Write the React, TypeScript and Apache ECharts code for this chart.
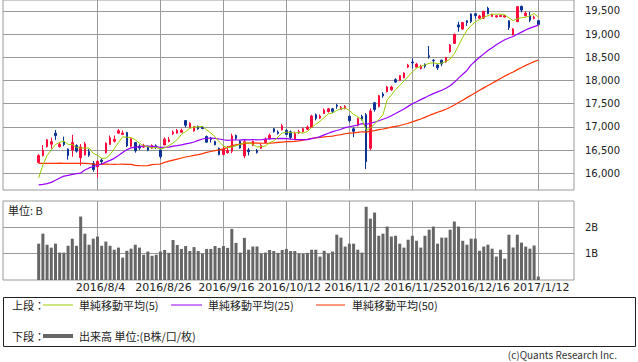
import React, { useEffect, useRef } from 'react';
import * as echarts from 'echarts';

const dates = [
  '2016/7/14','2016/7/15','2016/7/19','2016/7/20','2016/7/21','2016/7/22','2016/7/25','2016/7/26','2016/7/27','2016/7/28',
  '2016/7/29','2016/8/1','2016/8/2','2016/8/3','2016/8/4','2016/8/5','2016/8/8','2016/8/9','2016/8/10','2016/8/12',
  '2016/8/15','2016/8/16','2016/8/17','2016/8/18','2016/8/19','2016/8/22','2016/8/23','2016/8/24','2016/8/25','2016/8/26',
  '2016/8/29','2016/8/30','2016/8/31','2016/9/1','2016/9/2','2016/9/5','2016/9/6','2016/9/7','2016/9/8','2016/9/9',
  '2016/9/12','2016/9/13','2016/9/14','2016/9/15','2016/9/16','2016/9/20','2016/9/21','2016/9/23','2016/9/26','2016/9/27',
  '2016/9/28','2016/9/29','2016/9/30','2016/10/3','2016/10/4','2016/10/5','2016/10/6','2016/10/7','2016/10/11','2016/10/12',
  '2016/10/13','2016/10/14','2016/10/17','2016/10/18','2016/10/19','2016/10/20','2016/10/21','2016/10/24','2016/10/25','2016/10/26',
  '2016/10/27','2016/10/28','2016/10/31','2016/11/1','2016/11/2','2016/11/4','2016/11/7','2016/11/8','2016/11/9','2016/11/10',
  '2016/11/11','2016/11/14','2016/11/15','2016/11/16','2016/11/17','2016/11/18','2016/11/21','2016/11/22','2016/11/24','2016/11/25',
  '2016/11/28','2016/11/29','2016/11/30','2016/12/1','2016/12/2','2016/12/5','2016/12/6','2016/12/7','2016/12/8','2016/12/9',
  '2016/12/12','2016/12/13','2016/12/14','2016/12/15','2016/12/16','2016/12/19','2016/12/20','2016/12/21','2016/12/22','2016/12/26',
  '2016/12/27','2016/12/28','2016/12/29','2016/12/30','2017/1/4','2017/1/5','2017/1/6','2017/1/10','2017/1/11','2017/1/12',
];

const opens = [
  16235,16380,16575,16627,16866,16575,16684,16525,16503,16597,
  16336,16395,16467,16214,16141,16286,16445,16625,16690,16866,
  16840,16880,16585,16663,16585,16565,16568,16545,16595,16503,
  16612,16685,16851,16866,16887,17136,16992,16912,17006,16996,
  16793,16757,16684,16539,16405,16445,16475,16815,16699,16375,
  16503,16605,16485,16539,16665,16745,16960,16887,16938,16925,
  16895,16720,16870,16900,16950,16990,17264,17190,17290,17330,
  17390,17470,17380,17400,17230,16960,17035,17225,17261,16540,
  17520,17440,17710,17760,17800,18020,18005,18060,18290,18400,
  18290,18260,18350,18535,18440,18336,18440,18405,18620,18800,
  19200,19110,19290,19435,19440,19345,19345,19560,19380,19370,
  19380,19370,19290,18983,19270,19600,19400,19400,19340,19291,
];

const closes = [
  16385,16497,16723,16681,16811,16627,16620,16383,16664,16476,
  16569,16635,16391,16083,16254,16254,16650,16764,16735,16919,
  16869,16596,16745,16486,16545,16598,16497,16597,16556,16360,
  16737,16725,16887,16926,16925,17037,17081,17012,16958,16965,
  16672,16729,16614,16405,16519,16492,16807,16754,16544,16683,
  16465,16693,16449,16598,16735,16819,16899,16860,17024,16840,
  16774,16856,16900,16963,16998,17235,17184,17234,17365,17391,
  17336,17446,17425,17442,17134,16905,17177,17171,16251,17344,
  17374,17672,17668,17862,17862,17967,18106,18162,18333,18381,
  18356,18307,18308,18513,18426,18274,18360,18496,18765,18996,
  19155,19250,19253,19273,19401,19391,19494,19444,19427,19396,
  19403,19401,19145,19114,19594,19520,19454,19301,19364,19210,
];

const highs = [
  16410,16610,16740,16770,16935,16665,16790,16535,16830,16625,
  16633,16677,16525,16264,16285,16325,16665,16815,16815,16955,
  16925,16895,16755,16675,16625,16635,16595,16625,16625,16535,
  16775,16785,16925,16955,16965,17150,17100,17020,17030,17020,
  16815,16785,16705,16555,16575,16590,16855,16835,16715,16715,
  16545,16705,16525,16648,16775,16855,16975,16925,17065,16955,
  16923,16900,16940,16990,17030,17260,17290,17270,17400,17410,
  17410,17500,17450,17470,17250,16990,17200,17260,17300,17400,
  17540,17690,17750,17885,17890,18050,18120,18180,18360,18480,
  18380,18340,18370,18746,18460,18350,18450,18510,18785,19010,
  19270,19265,19300,19450,19450,19415,19500,19592,19440,19410,
  19420,19420,19300,19130,19600,19615,19490,19480,19400,19300,
];

const lows = [
  16215,16365,16555,16530,16720,16555,16585,16293,16358,16445,
  16163,16385,16355,16032,15909,16195,16425,16615,16665,16855,
  16825,16565,16565,16445,16505,16545,16475,16525,16525,16315,
  16605,16665,16825,16855,16875,16990,16970,16900,16940,16950,
  16660,16665,16605,16385,16395,16425,16435,16715,16530,16325,
  16385,16585,16425,16525,16655,16725,16875,16835,16925,16825,
  16735,16716,16850,16880,16930,16980,17140,17170,17280,17310,
  17300,17390,17370,17380,17100,16780,17010,17140,16090,16500,
  17330,17420,17630,17745,17780,17950,17990,18050,18270,18265,
  18280,18240,18265,18470,18300,18230,18310,18385,18600,18790,
  19054,19090,19180,19240,19340,19330,19330,19430,19370,19360,
  19370,19360,19090,18975,19260,19470,19380,19260,19320,19200,
];

// 出来高 (B株)
const volumes = [
  1.38,1.76,1.34,1.23,1.38,1.04,1.04,1.30,1.57,1.30,
  2.41,1.76,1.34,1.57,1.65,1.30,1.46,1.30,1.15,1.23,
  0.85,1.11,1.19,1.34,1.23,0.96,1.08,0.92,0.96,1.08,
  1.14,1.03,1.52,1.33,1.18,1.29,1.10,1.25,1.10,1.00,
  1.18,1.18,1.29,1.22,1.29,1.22,1.94,1.41,1.04,1.60,
  1.15,1.27,1.27,1.00,1.04,1.14,1.10,1.03,1.14,1.18,
  1.10,1.10,1.00,1.00,1.03,1.15,1.15,0.89,1.11,1.00,
  1.08,1.72,1.61,1.27,1.38,1.38,1.15,1.04,2.78,2.33,
  2.56,1.68,1.76,2.03,1.65,1.68,1.38,1.23,1.53,1.68,
  1.49,1.23,1.68,1.91,2.03,1.38,1.61,1.61,1.91,2.22,
  2.03,1.49,1.34,1.57,1.57,1.11,1.27,1.34,1.19,0.89,
  1.15,0.81,1.72,1.23,1.72,1.42,1.27,1.19,1.31,0.13,
];

// first four 5-day averages (they include days before the window)
const ma5Head = [15900, 16180, 16385, 16505];

const ma25 = [
  15750,15762,15778,15805,15850,15898,15939,15956,15976,15992,
  16005,16073,16116,16146,16174,16201,16240,16279,16322,16383,
  16447,16507,16548,16564,16577,16585,16585,16580,16575,16557,
  16562,16566,16586,16596,16614,16633,16651,16676,16711,16739,
  16756,16759,16753,16740,16724,16709,16718,16718,16720,16725,
  16720,16728,16722,16724,16739,16742,16749,16748,16752,16748,
  16738,16729,16725,16725,16726,16748,16766,16791,16829,16864,
  16898,16923,16950,16986,17004,17021,17041,17070,17056,17080,
  17102,17133,17165,17199,17240,17288,17338,17388,17443,17498,
  17543,17588,17631,17677,17718,17755,17792,17835,17888,17962,
  18052,18135,18218,18339,18421,18502,18575,18646,18708,18770,
  18827,18879,18918,18949,18998,19044,19090,19130,19164,19195,
];

const ma50 = [
  16214,16216,16217,16215,16216,16218,16216,16214,16215,16217,
  16216,16214,16210,16198,16195,16194,16196,16195,16193,16195,
  16196,16194,16192,16170,16165,16163,16166,16188,16195,16200,
  16235,16262,16285,16305,16330,16352,16368,16385,16402,16425,
  16450,16470,16490,16505,16528,16560,16596,16612,16628,16639,
  16652,16656,16651,16649,16648,16652,16657,16667,16674,16681,
  16685,16690,16700,16717,16732,16752,16763,16772,16785,16794,
  16803,16820,16834,16853,16865,16871,16884,16896,16889,16909,
  16922,16941,16956,16975,16994,17012,17030,17053,17080,17108,
  17140,17172,17205,17245,17282,17316,17347,17382,17426,17471,
  17525,17576,17632,17685,17738,17790,17842,17894,17942,17993,
  18045,18096,18141,18184,18236,18281,18327,18368,18408,18444,
];

const tickDates = ['2016/8/4','2016/8/26','2016/9/16','2016/10/12','2016/11/2','2016/11/25','2016/12/16','2017/1/12'];
const priceTicks = [16000, 16500, 17000, 17500, 18000, 18500, 19000, 19500];
const volumeTicks = [1, 2];

const UP = '#ff0a3c';
const DOWN = '#0a3296';
const C5 = '#99cc00';
const C25 = '#9900ff';
const C50 = '#ff3300';
const VOL = '#666666';
const GRID = '#9a9a9a';
const JP = '"Noto Sans CJK JP", sans-serif';
const NUM = '"DejaVu Sans", sans-serif';

function fmtComma(v: number) {
  return String(v).replace(/\B(?=(\d{3})+(?!\d))/g, ',');
}

export default function App() {
  const ref = useRef<HTMLDivElement>(null);

  useEffect(() => {
    document.body.style.margin = '0';
    const el = ref.current;
    if (!el) return;
    const chart = echarts.init(el, null, { renderer: 'svg' });

    const ma5 = closes.map((c, i) => {
      if (i < 4) return ma5Head[i];
      let s = 0;
      for (let k = i - 4; k <= i; k++) s += closes[k];
      return s / 5;
    });
    const tickPos = tickDates.map((d) => dates.indexOf(d));
    const candleData = dates.map((_, i) => [i, opens[i], closes[i], lows[i], highs[i]]);
    const volData = volumes.map((v, i) => [i, v]);
    const line = (arr: number[]) => arr.map((v, i) => [i, v]);

    const xMin = -8.5;
    const xMax = 127.5;

    const legendText = (text: string, x: number, y: number) => ({
      type: 'text', x, y,
      style: { text, font: '11px ' + JP, fill: '#222', verticalAlign: 'middle', align: 'left' },
    });
    const legendLine = (x1: number, x2: number, y: number, color: string, w: number) => ({
      type: 'line', shape: { x1, y1: y, x2, y2: y }, style: { stroke: color, lineWidth: w },
    });

    chart.setOption({
      animation: false,
      backgroundColor: '#ffffff',
      textStyle: { fontFamily: NUM },
      grid: [
        { left: 3, top: 0, width: 571, height: 190, show: true, borderColor: GRID, borderWidth: 1, backgroundColor: 'transparent', containLabel: false, outerBoundsMode: 'none' },
        { left: 3, top: 201, width: 571, height: 79, show: true, borderColor: GRID, borderWidth: 1, backgroundColor: 'transparent', containLabel: false, outerBoundsMode: 'none' },
      ],
      xAxis: [
        {
          type: 'value', gridIndex: 0, min: xMin, max: xMax,
          axisLine: { show: false },
          axisTick: { show: false, customValues: tickPos },
          axisLabel: { show: false, customValues: tickPos },
          splitLine: { show: true, lineStyle: { color: GRID, width: 1 } },
        },
        {
          type: 'value', gridIndex: 1, min: xMin, max: xMax,
          axisLine: { show: false },
          axisTick: { show: false, customValues: tickPos },
          axisLabel: {
            customValues: tickPos, hideOverlap: false,
            formatter: (v: number) => dates[Math.round(v)],
            fontSize: 11, fontFamily: NUM, color: '#222', margin: 2, padding: [0, 0, 0, 6],
          },
          splitLine: { show: true, lineStyle: { color: GRID, width: 1 } },
        },
      ],
      yAxis: [
        {
          type: 'value', gridIndex: 0, position: 'right', min: 15640, max: 19737, scale: true,
          axisLine: { show: false },
          axisTick: { show: false, customValues: priceTicks },
          axisLabel: { customValues: priceTicks, formatter: (v: number) => fmtComma(v), fontSize: 10, fontFamily: NUM, color: '#222', margin: 11 },
          splitLine: { show: true, lineStyle: { color: GRID, width: 1 } },
        },
        {
          type: 'value', gridIndex: 1, position: 'right', min: 0, max: 3,
          axisLine: { show: false },
          axisTick: { show: false, customValues: volumeTicks },
          axisLabel: { customValues: volumeTicks, formatter: (v: number) => v + 'B', fontSize: 10, fontFamily: NUM, color: '#222', margin: 11 },
          splitLine: { show: true, lineStyle: { color: GRID, width: 1 } },
        },
      ],
      series: [
        {
          type: 'candlestick', xAxisIndex: 0, yAxisIndex: 0, data: candleData, barWidth: 2,
          itemStyle: { color: UP, color0: DOWN, borderColor: UP, borderColor0: DOWN, borderWidth: 1 },
          z: 3,
        },
        { type: 'line', xAxisIndex: 0, yAxisIndex: 0, data: line(ma50), showSymbol: false, symbol: 'none', lineStyle: { color: C50, width: 1.2 }, z: 4 },
        { type: 'line', xAxisIndex: 0, yAxisIndex: 0, data: line(ma25), showSymbol: false, symbol: 'none', lineStyle: { color: C25, width: 1.2 }, z: 4 },
        { type: 'line', xAxisIndex: 0, yAxisIndex: 0, data: line(ma5), showSymbol: false, symbol: 'none', lineStyle: { color: C5, width: 1 }, z: 5 },
        { type: 'bar', xAxisIndex: 1, yAxisIndex: 1, data: volData, barWidth: 3, itemStyle: { color: VOL }, z: 3 },
      ],
      graphic: [
        { type: 'text', x: 8, y: 210, style: { text: '単位: B', font: '11px ' + JP, fill: '#222', verticalAlign: 'middle' } },
        { type: 'rect', shape: { x: 3.5, y: 297.5, width: 632, height: 49 }, style: { fill: 'none', stroke: '#222', lineWidth: 1 } },
        legendText('上段：', 12, 305),
        legendLine(43, 73, 305, C5, 1),
        legendText('単純移動平均(5)', 79, 305),
        legendLine(171, 202, 305, C25, 1),
        legendText('単純移動平均(25)', 208, 305),
        legendLine(316, 345, 305, C50, 1),
        legendText('単純移動平均(50)', 352, 305),
        legendText('下段：', 12, 336),
        legendLine(43, 73, 336, VOL, 4),
        legendText('出来高 単位:(B株/口/枚)', 79, 336),
        { type: 'text', x: 617, y: 354, style: { text: '(c)Quants Research Inc.', font: '10px ' + JP, fill: '#333', align: 'right', verticalAlign: 'middle' } },
      ],
    });

    return () => chart.dispose();
  }, []);

  return <div ref={ref} style={{ width: 638, height: 362 }} />;
}
